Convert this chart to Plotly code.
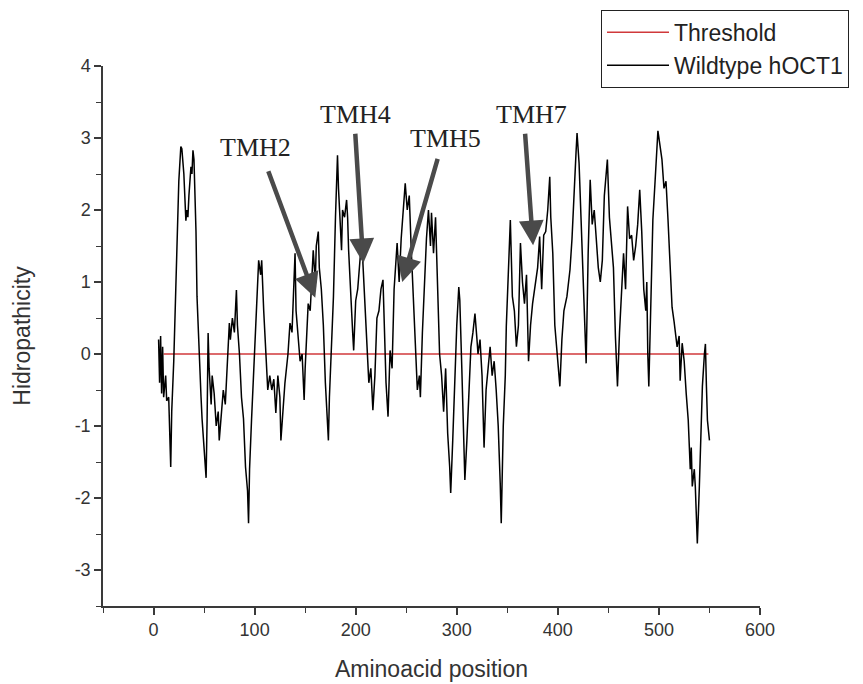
import plotly.graph_objects as go

# --- Data: hydropathy profile ---
POSITIONS = [
    5, 6, 7, 8, 9, 10, 12, 13, 15, 17, 18, 20, 22, 23, 25, 27, 28, 30, 31, 32,
    33, 34, 35, 37, 38, 39, 40, 42, 43, 45, 47, 48, 50, 52, 53, 54, 55, 57, 58, 60,
    62, 64, 65, 67, 69, 71, 73, 75, 76, 78, 80, 82, 83, 85, 87, 89, 91, 93, 94, 95,
    97, 99, 101, 103, 104, 106, 107, 109, 111, 113, 115, 117, 119, 121, 123, 125, 126, 128, 130, 133,
    135, 137, 140, 141, 143, 145, 147, 149, 150, 152, 153, 155, 157, 158, 160, 161, 163, 164, 166, 168,
    170, 172, 173, 174, 176, 178, 180, 182, 183, 184, 186, 187, 189, 191, 192, 193, 195, 197, 198, 200,
    202, 205, 207, 209, 211, 213, 215, 217, 219, 221, 223, 225, 227, 228, 230, 232, 234, 236, 238, 241,
    243, 245, 247, 249, 251, 253, 255, 257, 259, 261, 263, 264, 266, 268, 270, 272, 274, 275, 277, 279,
    281, 283, 285, 287, 289, 291, 293, 294, 296, 298, 300, 302, 303, 305, 307, 308, 310, 312, 314, 316,
    318, 320, 321, 323, 325, 327, 329, 331, 333, 335, 337, 339, 341, 343, 344, 346, 348, 349, 351, 353,
    355, 357, 359, 361, 363, 365, 367, 369, 371, 373, 375, 377, 380, 382, 384, 386, 388, 390, 392, 393,
    395, 397, 399, 402, 404, 406, 409, 412, 414, 416, 418, 419, 421, 423, 424, 426, 427, 428, 430, 432,
    434, 436, 438, 440, 442, 444, 446, 449, 451, 453, 455, 457, 459, 461, 463, 465, 467, 469, 471, 473,
    475, 477, 479, 481, 483, 485, 487, 488, 489, 490, 492, 494, 496, 498, 499, 501, 503, 505, 507, 509,
    511, 513, 515, 518, 520, 521, 523, 525, 527, 529, 531, 532, 533, 535, 536, 537, 538, 540, 541, 542,
    543, 545, 546, 547, 548, 550,
]
HYDROPATHY = [
    0.2, -0.4, 0.25, -0.55, 0.1, -0.6, -0.3, -0.65, -0.6, -1.57, -0.8, -0.1, 0.9, 1.4, 2.4, 2.88, 2.85, 2.5, 2.2, 1.85,
    2.0, 1.9, 2.2, 2.6, 2.5, 2.83, 2.7, 1.7, 0.8, 0.0, -0.6, -0.9, -1.38, -1.72, -0.9, 0.29, -0.2, -0.7, -0.3, -0.55,
    -1.0, -0.8, -1.2, -0.8, -0.5, -0.7, -0.2, 0.43, 0.2, 0.5, 0.3, 0.89, 0.4, 0.0, -0.6, -0.9, -1.57, -1.9, -2.35, -1.6,
    -0.9, -0.3, 0.25, 0.8, 1.3, 1.1, 1.3, 0.6, 0.0, -0.5, -0.3, -0.5, -0.35, -0.82, -0.3, -0.6, -1.2, -0.8, -0.4, 0.0,
    0.43, 0.3, 1.4, 0.6, 0.3, -0.1, 0.0, -0.64, -0.2, 0.4, 0.7, 0.6, 1.1, 1.44, 1.0, 1.5, 1.7, 1.2, 0.9, 0.4,
    -0.4, -0.9, -1.2, -0.6, 0.05, 0.8, 1.9, 2.76, 2.3, 2.0, 1.44, 2.0, 1.9, 2.14, 1.9, 1.44, 0.74, 0.3, 0.05, 0.74,
    0.9, 1.44, 1.3, 0.74, 0.3, -0.4, -0.2, -0.78, -0.3, 0.5, 0.6, 0.9, 1.03, 0.6, -0.4, -0.87, 0.05, -0.2, 0.9, 1.54,
    1.0, 1.6, 2.0, 2.37, 2.0, 2.2, 1.44, 0.74, -0.05, -0.5, -0.3, -0.6, 0.3, 1.0, 1.6, 2.0, 1.5, 1.96, 1.4, 1.9,
    0.93, 0.0, -0.3, -0.8, -0.2, -1.1, -1.57, -1.93, -1.2, -0.3, 0.4, 0.93, 0.75, -0.2, -1.2, -1.75, -1.2, -0.5, 0.1, 0.3,
    0.56, 0.2, 0.0, 0.2, -0.3, -1.3, -0.5, -0.2, 0.1, -0.3, -0.1, -0.5, -1.0, -1.8, -2.35, -1.0, -0.3, 0.38, 1.2, 1.86,
    0.8, 0.6, 0.1, 0.4, 1.54, 1.0, 0.7, 1.1, -0.1, 0.4, 0.7, 0.9, 1.2, 1.63, 0.9, 1.65, 1.7, 2.0, 2.46, 1.9,
    1.4, 0.4, 0.0, -0.45, 0.2, 0.6, 0.8, 1.17, 1.6, 2.3, 2.8, 3.07, 2.65, 1.86, 1.4, 0.7, 0.28, -0.13, 1.4, 2.42,
    1.8, 2.0, 1.6, 1.2, 1.0, 1.3, 2.2, 2.7, 1.9, 1.6, 1.2, 0.23, -0.45, 0.3, 0.78, 1.4, 0.9, 2.05, 1.6, 1.65,
    1.3, 1.5, 1.8, 2.28, 1.7, 0.9, 0.6, 1.0, 0.0, -0.45, 0.7, 1.86, 2.35, 3.0, 3.1, 2.9, 2.7, 2.3, 2.4, 1.86,
    1.16, 0.65, 0.45, 0.1, 0.25, -0.37, 0.15, -0.1, -0.55, -0.92, -1.6, -1.3, -1.84, -1.6, -1.84, -2.2, -2.63, -1.84, -1.38, -0.92,
    -0.45, 0.0, 0.14, -0.45, -0.92, -1.2,
]

THRESHOLD_X = [10, 549]
THRESHOLD_Y = [0, 0]

# Tick labels as printed (plain hyphen for negatives)
X_TICKS = [0, 100, 200, 300, 400, 500, 600]
X_TICK_TEXT = ['0', '100', '200', '300', '400', '500', '600']
Y_TICKS = [-3, -2, -1, 0, 1, 2, 3, 4]
Y_TICK_TEXT = ['-3', '-2', '-1', '0', '1', '2', '3', '4']

# Helix labels, arrow tips and arrow tails (data units)
HELIX_LABELS = ["TMH2", "TMH4", "TMH5", "TMH7"]
HELIX_TIP_X = [160, 207.5, 246, 375.5]
HELIX_TIP_Y = [0.78, 1.26, 1.0, 1.51]
HELIX_TAIL_X = [113, 199.5, 281.5, 367.5]
HELIX_TAIL_Y = [2.56, 3.08, 2.73, 3.08]
HELIX_TEXT_X = [101, 199.5, 288.5, 373.5]
HELIX_TEXT_Y = [2.87, 3.32, 3.0, 3.32]

AXIS_COLOR = '#3a3a3a'
ARROW_COLOR = '#4a4a4a'


def main():
    fig = go.Figure()

    fig.add_trace(go.Scatter(
        x=THRESHOLD_X, y=THRESHOLD_Y, mode='lines', name='Threshold',
        line=dict(color='#d0393b', width=1.5),
    ))
    fig.add_trace(go.Scatter(
        x=POSITIONS, y=HYDROPATHY, mode='lines', name='Wildtype hOCT1',
        line=dict(color='black', width=1.5),
    ))

    # Arrows pointing at the helices, then the labels above them
    for i, label in enumerate(HELIX_LABELS):
        fig.add_annotation(
            x=HELIX_TIP_X[i], y=HELIX_TIP_Y[i], xref='x', yref='y',
            axref='x', ayref='y', ax=HELIX_TAIL_X[i], ay=HELIX_TAIL_Y[i],
            text='', showarrow=True,
            arrowhead=2, arrowsize=1.1, arrowwidth=4.5, arrowcolor=ARROW_COLOR,
        )
        fig.add_annotation(
            x=HELIX_TEXT_X[i], y=HELIX_TEXT_Y[i], xref='x', yref='y',
            text=label, showarrow=False,
            font=dict(family='Liberation Serif', size=26, color='#222222'),
        )

    # The page body adds an 8px offset, so the figure is 8px smaller
    fig.update_layout(
        width=855, height=676,
        margin=dict(l=95, r=103, t=58, b=78, autoexpand=False),
        paper_bgcolor='white', plot_bgcolor='white',
        font=dict(family='Liberation Sans', color='#333333'),
        showlegend=True,
        legend=dict(
            x=0.758, y=1.104, xanchor='left', yanchor='top',
            bordercolor='#222222', borderwidth=1, bgcolor='white',
            font=dict(size=23, color='#222222'),
            tracegroupgap=0, itemwidth=62,
        ),
    )

    fig.update_xaxes(
        range=[-50, 600], tickvals=X_TICKS, ticktext=X_TICK_TEXT,
        showline=True, linecolor=AXIS_COLOR, linewidth=1.5,
        ticks='outside', ticklen=7, tickwidth=1.5, tickcolor=AXIS_COLOR,
        minor=dict(tickvals=[-50, 50, 150, 250, 350, 450, 550], ticks='outside',
                   ticklen=5, tickwidth=1.2, tickcolor=AXIS_COLOR),
        showgrid=False, zeroline=False,
        tickfont=dict(size=18),
        title=dict(text='Aminoacid position', font=dict(size=23), standoff=22),
    )
    fig.update_yaxes(
        range=[-3.5, 4], tickvals=Y_TICKS, ticktext=Y_TICK_TEXT,
        showline=True, linecolor=AXIS_COLOR, linewidth=1.5,
        ticks='outside', ticklen=7, tickwidth=1.5, tickcolor=AXIS_COLOR,
        minor=dict(tickvals=[-3.5, -2.5, -1.5, -0.5, 0.5, 1.5, 2.5, 3.5], ticks='outside',
                   ticklen=5, tickwidth=1.2, tickcolor=AXIS_COLOR),
        showgrid=False, zeroline=False,
        tickfont=dict(size=18),
        title=dict(text='Hidropathicity', font=dict(size=23), standoff=38),
    )

    fig.write_html("out.html")


if __name__ == "__main__":
    main()
